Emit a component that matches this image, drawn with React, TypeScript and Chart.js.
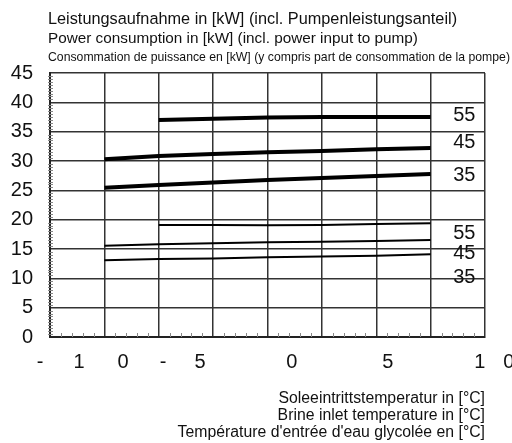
import React, { useEffect, useRef } from "react";
import { Chart, registerables } from "chart.js";

Chart.register(...registerables);

// Brine inlet temperature (°C)
const temps = [-15, -10, -5, 0, 5, 10, 15];
// Power consumption (kW), upper set (thick lines)
const upper55 = [null, 37.0, 37.2, 37.4, 37.5, 37.5, 37.5];
const upper45 = [30.3, 30.85, 31.2, 31.5, 31.7, 32.0, 32.2];
const upper35 = [25.45, 25.9, 26.35, 26.75, 27.1, 27.45, 27.8];
// lower set (thin lines)
const lower55 = [null, 19.1, 19.1, 19.05, 19.1, 19.25, 19.4];
const lower45 = [15.55, 15.8, 15.97, 16.14, 16.25, 16.36, 16.53];
const lower35 = [13.1, 13.3, 13.4, 13.58, 13.72, 13.86, 14.1];

// curve labels at right
const curveLabels = ["55", "45", "35", "55", "45", "35"];
const curveLabelY = [37.8, 33.1, 27.6, 17.7, 14.2, 10.2];
const curveLabelX = 18.1;

// x tick labels as printed in the original (split characters)
const xTickTexts = ["-", "1", "0", "-", "5", "0", "5", "1", "0"];
const xTickPos = [-20.92, -17.33, -13.29, -9.61, -6.21, 2.24, 11.07, 19.52, 22.19];

const titleLines = [
  "Leistungsaufnahme in [kW] (incl. Pumpenleistungsanteil)",
  "Power consumption in [kW] (incl. power input to pump)",
  "Consommation de puissance en [kW] (y compris part de consommation de la pompe)",
];
const xTitleLines = [
  "Soleeintrittstemperatur in [°C]",
  "Brine inlet temperature in [°C]",
  "Température d'entrée d'eau glycolée en [°C]",
];

const FONT = 'Arial, "Liberation Sans", sans-serif';

const textPlugin = {
  id: "textPlugin",
  afterDraw(chart: any) {
    const ctx = chart.ctx;
    const xs = chart.scales.x;
    const ys = chart.scales.y;
    const area = chart.chartArea;
    ctx.save();
    // minor ticks
    ctx.strokeStyle = "#888";
    ctx.lineWidth = 1;
    for (let v = 0.5; v < 45; v += 0.5) {
      if (v % 5 === 0) continue;
      const py = Math.round(ys.getPixelForValue(v)) + 0.5;
      ctx.beginPath();
      ctx.moveTo(area.left - 2, py);
      ctx.lineTo(area.left + 3, py);
      ctx.stroke();
    }
    for (let v = -19; v < 20; v += 1) {
      if (v % 5 === 0) continue;
      const px = Math.round(xs.getPixelForValue(v)) + 0.5;
      ctx.beginPath();
      ctx.moveTo(px, area.bottom);
      ctx.lineTo(px, area.bottom - 4);
      ctx.stroke();
    }
    ctx.fillStyle = "#111";
    // curve labels
    ctx.font = "20px " + FONT;
    ctx.textAlign = "center";
    ctx.textBaseline = "middle";
    curveLabels.forEach((t, i) => {
      ctx.fillText(t, xs.getPixelForValue(curveLabelX), ys.getPixelForValue(curveLabelY[i]));
    });
    // x tick labels
    xTickTexts.forEach((t, i) => {
      ctx.fillText(t, xs.getPixelForValue(xTickPos[i]), area.bottom + 25);
    });
    // top titles
    ctx.textAlign = "left";
    ctx.font = "16.3px " + FONT;
    ctx.fillText(titleLines[0], area.left - 2, 20, 410);
    ctx.font = "15.3px " + FONT;
    ctx.fillText(titleLines[1], area.left - 2, 39, 370);
    ctx.font = "13px " + FONT;
    ctx.fillText(titleLines[2], area.left - 2, 57, 462);
    // x title
    ctx.textAlign = "right";
    ctx.font = "15.8px " + FONT;
    xTitleLines.forEach((t, i) => {
      ctx.fillText(t, area.right, area.bottom + 62 + i * 17);
    });
    ctx.restore();
  },
};

export default function App() {
  const ref = useRef<HTMLCanvasElement>(null);
  useEffect(() => {
    if (!ref.current) return;
    const mk = (d: (number | null)[], w: number) => ({
      data: temps.map((t, i) => ({ x: t, y: d[i] })),
      borderColor: "#000",
      borderWidth: w,
      pointRadius: 0,
      fill: false,
      tension: 0,
    });
    const chart = new Chart(ref.current, {
      type: "line",
      data: {
        datasets: [
          mk(upper55, 4),
          mk(upper45, 4),
          mk(upper35, 4),
          mk(lower55, 2),
          mk(lower45, 2),
          mk(lower35, 2),
        ],
      },
      options: {
        responsive: false,
        animation: false,
        layout: { padding: { left: 0, top: 73, right: 27, bottom: 106 } },
        plugins: { legend: { display: false }, tooltip: { enabled: false } },
        scales: {
          x: {
            type: "linear",
            min: -20,
            max: 20,
            ticks: { stepSize: 5, display: false },
            grid: { color: "#333", lineWidth: 1.5, drawTicks: false },
            border: { color: "#222", width: 2 },
            afterFit: (s: any) => {
              s.height = 0;
            },
          },
          y: {
            min: 0,
            max: 45,
            ticks: {
              stepSize: 5,
              color: "#111",
              padding: 17,
              font: { size: 20, family: FONT },
            },
            grid: { color: "#333", lineWidth: 1.5, drawTicks: false },
            border: { color: "#222", width: 2 },
            afterFit: (s: any) => {
              s.width = 50;
            },
          },
        },
      },
      plugins: [textPlugin],
    });
    return () => chart.destroy();
  }, []);
  return (
    <div style={{ position: "absolute", left: 0, top: 0, width: 512, height: 443, background: "#fff" }}>
      <canvas ref={ref} width={512} height={443} />
    </div>
  );
}
